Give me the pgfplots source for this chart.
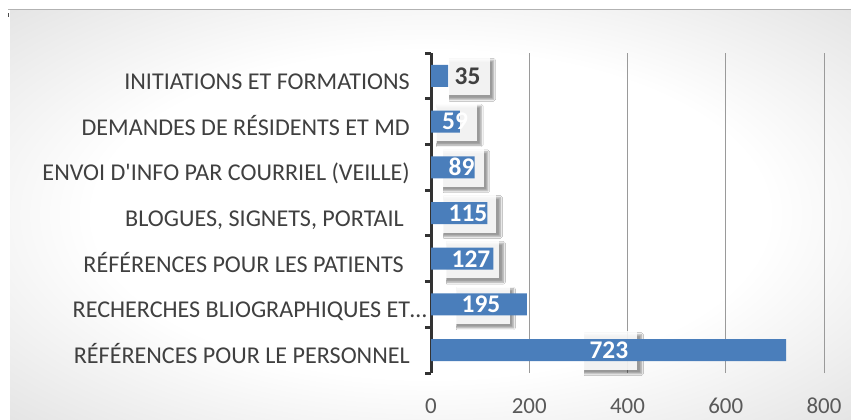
\documentclass[border=0pt]{standalone}
\usepackage{fontspec}
\setmainfont{Carlito}
\usepackage{pgfplots}
\pgfplotsset{compat=1.18}
\usetikzlibrary{shadows.blur}
\definecolor{barblue}{HTML}{4A7EBB}
\definecolor{lab}{HTML}{404040}
\definecolor{tickc}{HTML}{595959}
\definecolor{gridc}{HTML}{9A9A9A}
\pgfdeclareradialshading{bgshade}{\pgfpoint{0bp}{0bp}}{color(0bp)=(white); color(20bp)=(white); color(50bp)=(black!20); color(72bp)=(black!26)}
\tikzset{lbox/.style={fill=white, fill opacity=0.88, draw=none,
  blur shadow={shadow xshift=4bp, shadow yshift=-4bp, shadow blur steps=6, shadow opacity=45}}}
\begin{document}
\begin{tikzpicture}[x=1bp,y=1bp]
\useasboundingbox (0,0) rectangle (851,419);
\shade[shading=bgshade] (10,0) rectangle (851,409);
\draw[black!30, line width=1bp] (8,409) -- (851,409);
\draw[black!70, line width=0.8bp] (8,402) -- (8,406);
\begin{axis}[
  at={(431bp,46bp)}, anchor=south west,
  scale only axis, width=393bp, height=320bp,
  clip=false,
  xmin=0, xmax=800, ymin=-0.5, ymax=6.5,
  axis x line=bottom, axis y line=left,
  x axis line style={draw=none},
  y axis line style={-, line width=3bp, color=black!80},
  xtick={0,200,400,600,800},
  xmajorgrids, major grid style={gridc, line width=1bp},
  major tick length=0pt,
  minor tick length=6bp,
  tick align=outside,
  minor tick style={line width=3bp, color=black!80},
  /pgf/number format/assume math mode=true,
  xticklabel style={anchor=base, yshift=-40bp, font=\fontsize{23}{26}\selectfont, text=tickc},
  ytick={0,...,6},
  minor ytick={-0.5,0.5,...,6.5},
  yticklabels={RÉFÉRENCES POUR LE PERSONNEL,
    RECHERCHES BLIOGRAPHIQUES ET…\hspace*{-17bp},
    RÉFÉRENCES POUR LES PATIENTS\hspace*{6bp},
    {BLOGUES, SIGNETS, PORTAIL\hspace*{6bp}},
    ENVOI D\textquotesingle INFO PAR COURRIEL (VEILLE),
    DEMANDES DE RÉSIDENTS ET MD,
    INITIATIONS ET FORMATIONS},
  yticklabel style={anchor=base east, xshift=-21bp, yshift=-13.5bp, inner sep=0pt, font=\fontsize{24.2}{26}\selectfont, text=lab},
]
% label boxes (behind bars)
\addplot[lbox] coordinates {(304.3,-0.427) (420.3,-0.427) (420.3,0.427) (304.3,0.427)};
\addplot[lbox] coordinates {(43.8,0.573) (159.8,0.573) (159.8,1.427) (43.8,1.427)};
\addplot[lbox] coordinates {(23.4,1.573) (139.4,1.573) (139.4,2.427) (23.4,2.427)};
\addplot[lbox] coordinates {(17.3,2.573) (133.3,2.573) (133.3,3.427) (17.3,3.427)};
\addplot[lbox] coordinates {(17.1,3.573) (107.5,3.573) (107.5,4.427) (17.1,4.427)};
\addplot[lbox] coordinates {(3.7,4.573) (94.0,4.573) (94.0,5.427) (3.7,5.427)};
\addplot[lbox] coordinates {(29.1,5.573) (119.5,5.573) (119.5,6.427) (29.1,6.427)};
% bars
\addplot[xbar, bar width=22bp, bar shift=0pt, fill=barblue, draw=none]
  coordinates {(723,0) (195,1) (127,2) (115,3) (89,4) (59,5) (35,6)};
% label texts
\addplot[only marks, mark=text, text mark={},
  nodes near coords, point meta=explicit symbolic,
  nodes near coords style={anchor=center, text=white, inner sep=0pt,
    font=\fontsize{25.5}{27}\selectfont\bfseries}]
  coordinates {(362,0)[723] (101.7,1)[195] (81.4,2)[127] (75.3,3)[115] (62.2,4)[89] (48.9,5)[59]};
\addplot[only marks, mark=text, text mark={},
  nodes near coords, point meta=explicit symbolic,
  nodes near coords style={anchor=center, text=lab, inner sep=0pt,
    font=\fontsize{25.5}{27}\selectfont\bfseries}]
  coordinates {(74.3,6)[35]};
\end{axis}
\end{tikzpicture}
\end{document}
